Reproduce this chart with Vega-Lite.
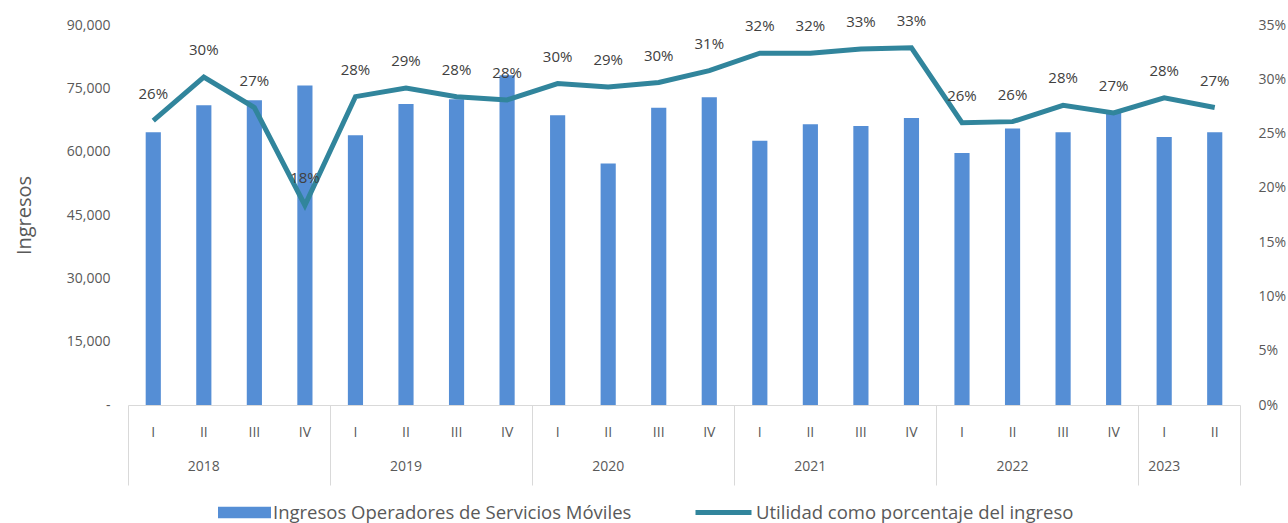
{
  "$schema": "https://vega.github.io/schema/vega-lite/v6.json",
  "width": 1112,
  "height": 380,
  "autosize": "none",
  "padding": {"left": 128, "top": 25, "right": 48, "bottom": 118},
  "config": {
    "view": {"stroke": null},
    "font": "Open Sans",
    "axis": {"grid": false, "labelColor": "#595959", "labelFontSize": 14, "titleColor": "#595959"}
  },
  "data": {
    "values": [
      {"periodo": "2018-I", "ingresos": 64600, "utilidad": 0.262},
      {"periodo": "2018-II", "ingresos": 71000, "utilidad": 0.302},
      {"periodo": "2018-III", "ingresos": 72200, "utilidad": 0.274},
      {"periodo": "2018-IV", "ingresos": 75700, "utilidad": 0.184},
      {"periodo": "2019-I", "ingresos": 63900, "utilidad": 0.284},
      {"periodo": "2019-II", "ingresos": 71300, "utilidad": 0.292},
      {"periodo": "2019-III", "ingresos": 72400, "utilidad": 0.284},
      {"periodo": "2019-IV", "ingresos": 78100, "utilidad": 0.281},
      {"periodo": "2020-I", "ingresos": 68600, "utilidad": 0.296},
      {"periodo": "2020-II", "ingresos": 57200, "utilidad": 0.293},
      {"periodo": "2020-III", "ingresos": 70400, "utilidad": 0.297},
      {"periodo": "2020-IV", "ingresos": 72900, "utilidad": 0.308},
      {"periodo": "2021-I", "ingresos": 62600, "utilidad": 0.324},
      {"periodo": "2021-II", "ingresos": 66500, "utilidad": 0.324},
      {"periodo": "2021-III", "ingresos": 66100, "utilidad": 0.328},
      {"periodo": "2021-IV", "ingresos": 68000, "utilidad": 0.329},
      {"periodo": "2022-I", "ingresos": 59700, "utilidad": 0.260},
      {"periodo": "2022-II", "ingresos": 65500, "utilidad": 0.261},
      {"periodo": "2022-III", "ingresos": 64600, "utilidad": 0.276},
      {"periodo": "2022-IV", "ingresos": 69200, "utilidad": 0.269},
      {"periodo": "2023-I", "ingresos": 63500, "utilidad": 0.283},
      {"periodo": "2023-II", "ingresos": 64600, "utilidad": 0.274}
    ]
  },
  "layer": [
    {
      "mark": {"type": "bar", "width": {"band": 0.3}},
      "encoding": {
        "x": {
          "field": "periodo", "type": "nominal", "sort": null,
          "scale": {"paddingInner": 0, "paddingOuter": 0},
          "axis": {"orient": "bottom", "title": null, "labelExpr": "split(datum.value,'-')[1]", "ticks": false, "domainColor": "#d9d9d9", "labelPadding": 20, "labelAngle": 0}
        },
        "y": {
          "field": "ingresos", "type": "quantitative",
          "scale": {"domain": [0, 90000]},
          "axis": {"orient": "left", "title": "Ingresos", "titleFontSize": 20, "titleFontWeight": "normal", "titlePadding": 32, "values": [0, 15000, 30000, 45000, 60000, 75000, 90000], "labelExpr": "datum.value == 0 ? '-' : format(datum.value, ',')", "ticks": false, "domain": false, "labelPadding": 18}
        },
        "fill": {
          "datum": "Ingresos Operadores de Servicios Móviles",
          "scale": {"range": ["#558ed5"]},
          "legend": {"orient": "none", "legendX": 90, "legendY": 461, "title": null, "symbolType": "M-1,-0.22H1V0.22H-1Z", "symbolSize": 2809, "labelFontSize": 18.5, "labelColor": "#595959", "labelOffset": 2, "symbolStrokeWidth": 0, "labelLimit": 500}
        }
      }
    },
    {
      "mark": {"type": "line", "strokeWidth": 5},
      "encoding": {
        "x": {
          "field": "periodo", "type": "nominal", "sort": null,
          "axis": {"orient": "bottom", "title": null, "values": ["2018-II", "2019-II", "2020-II", "2021-II", "2022-II", "2023-I"], "bandPosition": 1, "labelExpr": "split(datum.value,'-')[0]", "ticks": false, "domain": false, "labelPadding": 54, "labelAngle": 0}
        },
        "y": {
          "field": "utilidad", "type": "quantitative",
          "scale": {"domain": [0, 0.35]},
          "axis": {"orient": "right", "title": null, "values": [0, 0.05, 0.1, 0.15, 0.2, 0.25, 0.3, 0.35], "format": ".0%", "ticks": false, "domain": false, "labelPadding": 18}
        },
        "stroke": {
          "datum": "Utilidad como porcentaje del ingreso",
          "scale": {"range": ["#31859c"]},
          "legend": {"orient": "none", "legendX": 565, "legendY": 457, "title": null, "symbolType": "M-1,0H1", "symbolSize": 3136, "symbolStrokeWidth": 5, "labelFontSize": 18.5, "labelColor": "#595959", "labelOffset": 2, "labelLimit": 500}
        }
      }
    },
    {
      "mark": {"type": "text", "dy": -27, "fontSize": 15, "color": "#404040"},
      "encoding": {
        "x": {
          "field": "periodo", "type": "nominal", "sort": null,
          "axis": {"orient": "bottom", "title": null, "values": ["2018-I", "2019-I", "2020-I", "2021-I", "2022-I", "2023-I"], "bandPosition": 0, "labels": false, "domain": false, "ticks": true, "tickSize": 80, "tickColor": "#d9d9d9"}
        },
        "y": {"field": "utilidad", "type": "quantitative", "scale": {"domain": [0, 0.35]}, "axis": null},
        "text": {"field": "utilidad", "type": "quantitative", "format": ".0%"}
      }
    },
    {
      "mark": {"type": "point", "opacity": 0},
      "encoding": {
        "x": {
          "field": "periodo", "type": "nominal", "sort": null,
          "axis": {"orient": "bottom", "title": null, "values": ["2023-II"], "bandPosition": 1, "labels": false, "domain": false, "ticks": true, "tickSize": 80, "tickColor": "#d9d9d9"}
        }
      }
    }
  ],
  "resolve": {
    "scale": {"y": "independent"},
    "axis": {"x": "independent", "y": "independent"}
  }
}
